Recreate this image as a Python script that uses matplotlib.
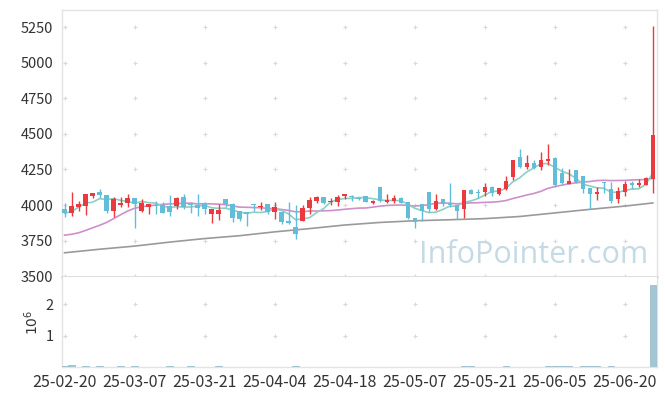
import matplotlib
matplotlib.use("Agg")
import matplotlib.pyplot as plt
import numpy as np
import pandas as pd

plt.rcParams['font.family'] = ['Noto Sans CJK KR', 'DejaVu Sans']

dates = ['25-02-20', '25-02-21', '25-02-24', '25-02-25', '25-02-26', '25-02-27', '25-02-28',
         '25-03-04', '25-03-05', '25-03-06', '25-03-07', '25-03-10', '25-03-11', '25-03-12',
         '25-03-13', '25-03-14', '25-03-17', '25-03-18', '25-03-19', '25-03-20', '25-03-21',
         '25-03-24', '25-03-25', '25-03-26', '25-03-27', '25-03-28', '25-03-31', '25-04-01',
         '25-04-02', '25-04-03', '25-04-04', '25-04-07', '25-04-08', '25-04-09', '25-04-10',
         '25-04-11', '25-04-14', '25-04-15', '25-04-16', '25-04-17', '25-04-18', '25-04-21',
         '25-04-22', '25-04-23', '25-04-24', '25-04-25', '25-04-28', '25-04-29', '25-04-30',
         '25-05-02', '25-05-07', '25-05-08', '25-05-09', '25-05-12', '25-05-13', '25-05-14',
         '25-05-15', '25-05-16', '25-05-19', '25-05-20', '25-05-21', '25-05-22', '25-05-23',
         '25-05-26', '25-05-27', '25-05-28', '25-05-29', '25-05-30', '25-06-02', '25-06-04',
         '25-06-05', '25-06-09', '25-06-10', '25-06-11', '25-06-12', '25-06-13', '25-06-16',
         '25-06-17', '25-06-18', '25-06-19', '25-06-20', '25-06-23', '25-06-24', '25-06-25',
         '25-06-26']

opens = [3972, 3946, 3988, 3995, 4065, 4093, 4070, 3960, 4000, 4012,
         4047, 3960, 3988, 4002, 4000, 3995, 3993, 4058, 4007, 4000,
         4016, 3937, 3937, 4042, 4007, 3958, 3949, 4005, 3984, 4007,
         3949, 3953, 3890, 3843, 3890, 3981, 4030, 4054, 4019, 4023,
         4063, 4063, 4049, 4063, 4012, 4124, 4023, 4030, 4047, 4019,
         3907, 4005, 4093, 3972, 4040, 4007, 4000, 3970, 4105, 4091,
         4093, 4124, 4075, 4112, 4199, 4335, 4269, 4293, 4269, 4311,
         4332, 4227, 4147, 4246, 4204, 4117, 4077, 4159, 4110, 4042,
         4093, 4157, 4140, 4140, 4183]
highs = [4015, 4089, 4028, 4080, 4084, 4110, 4072, 4058, 4058, 4077,
         4049, 4040, 4010, 4030, 4019, 4070, 4058, 4080, 4023, 4077,
         4023, 3972, 4005, 4045, 4012, 3962, 3951, 4010, 4023, 4009,
         4023, 3955, 4023, 4000, 4000, 4058, 4065, 4060, 4049, 4070,
         4075, 4068, 4058, 4065, 4035, 4128, 4077, 4070, 4058, 4021,
         3909, 4007, 4095, 4077, 4042, 4157, 4002, 4105, 4110, 4110,
         4157, 4135, 4120, 4204, 4316, 4391, 4351, 4320, 4374, 4428,
         4335, 4260, 4251, 4248, 4206, 4120, 4128, 4161, 4164, 4128,
         4171, 4170, 4180, 4195, 5260]
lows = [3918, 3923, 3958, 3930, 4047, 4051, 3946, 3914, 3986, 3984,
        3836, 3950, 3935, 3940, 3946, 3923, 3975, 3975, 3942, 3923,
        3935, 3871, 3895, 3986, 3883, 3890, 3853, 3958, 3967, 3940,
        3900, 3870, 3870, 3759, 3885, 3937, 4016, 4005, 4002, 3995,
        4040, 4030, 4035, 4020, 4005, 4023, 4016, 4016, 4012, 3900,
        3836, 3888, 3955, 3965, 3995, 3990, 3900, 3907, 4077, 4050,
        4063, 4065, 4070, 4105, 4175, 4258, 4250, 4255, 4246, 4281,
        4130, 4145, 4145, 4155, 4086, 3970, 4035, 4086, 4012, 4016,
        4063, 4110, 4130, 4140, 4082]
closes = [3942, 3993, 4005, 4077, 4082, 4070, 3958, 4042, 4014, 4047,
          4007, 4014, 4005, 3995, 3946, 3949, 4051, 3988, 4000, 3977,
          3970, 3972, 3967, 4007, 3907, 3900, 3935, 4000, 3995, 3949,
          3988, 3879, 3876, 3794, 3977, 4035, 4054, 4016, 4030, 4058,
          4075, 4058, 4044, 4023, 4028, 4030, 4035, 4047, 4016, 3907,
          3883, 3960, 3970, 4028, 4005, 3998, 3960, 4105, 4077, 4086,
          4124, 4086, 4117, 4171, 4316, 4269, 4293, 4258, 4316, 4323,
          4140, 4152, 4168, 4164, 4112, 4075, 4089, 4152, 4030, 4098,
          4145, 4140, 4157, 4187, 4491]
volumes = [20000, 60000, 8000, 35000, 8000, 35000, 8000, 8000, 35000, 8000,
           35000, 8000, 8000, 8000, 8000, 35000, 8000, 8000, 35000, 8000,
           8000, 8000, 35000, 8000, 8000, 8000, 8000, 8000, 8000, 8000,
           8000, 8000, 8000, 35000, 8000, 8000, 8000, 8000, 8000, 8000,
           8000, 8000, 8000, 8000, 8000, 8000, 8000, 8000, 8000, 8000,
           8000, 8000, 8000, 8000, 8000, 8000, 8000, 35000, 35000, 8000,
           8000, 8000, 8000, 35000, 8000, 8000, 8000, 8000, 8000, 35000,
           35000, 35000, 35000, 8000, 35000, 35000, 35000, 8000, 35000, 8000,
           8000, 8000, 8000, 8000, 2610000]

ma5_head = [3942, 3955, 3985, 4015]
ma20_head = [3789, 3795, 3805, 3822, 3840, 3858, 3878, 3905, 3932, 3958,
             3978, 3988, 3995, 4000, 4005, 4008, 4011, 4013, 4014]
ma60_idx = [0, 5, 10, 15, 20, 25, 30, 35, 40, 45, 50, 55, 60, 65, 70, 75, 80, 84]
ma60_vals = [3665, 3690, 3712, 3740, 3765, 3785, 3812, 3835, 3860, 3878,
             3890, 3897, 3905, 3920, 3945, 3970, 3993, 4015]

up_color = '#ea3a40'
down_color = '#62bdd9'

n = len(closes)
x = np.arange(n)
o = np.array(opens)
c = np.array(closes)
colors = [up_color if c[i] >= o[i] else down_color for i in range(n)]

ma5 = pd.Series(closes, dtype=float).rolling(5).mean()
ma5.iloc[:4] = ma5_head
ma20 = pd.Series(closes, dtype=float).rolling(20).mean()
ma20.iloc[:19] = ma20_head

fig = plt.figure(figsize=(6.65, 3.96), dpi=100)
ax = fig.add_axes([0.0928, 0.3005, 0.8952, 0.6742])
axv = fig.add_axes([0.0928, 0.0732, 0.8952, 0.2273], sharex=ax)

# grid crosses
xt = np.arange(0, n, 10)
yt = np.arange(3500, 5251, 250)
gx, gy = np.meshgrid(xt, yt)
ax.scatter(gx.ravel(), gy.ravel(), marker='+', s=10, linewidths=0.8, color='#d9d9d9', zorder=0)
vt = [1e6, 2e6]
gx2, gy2 = np.meshgrid(xt, vt)
axv.scatter(gx2.ravel(), gy2.ravel(), marker='+', s=10, linewidths=0.8, color='#d9d9d9', zorder=0)

ax.text(0.985, 0.052, 'InfoPointer.com', transform=ax.transAxes, ha='right', va='baseline',
        fontsize=22, color='#c6dae5', family='Open Sans', zorder=1)

# moving averages
ax.plot(ma60_idx, ma60_vals, color='#9a9a9a', lw=1.2, zorder=2)
ax.plot(x, ma20, color='#cf8fca', lw=1.2, zorder=2)
ax.plot(x, ma5, color='#8ccfc3', lw=1.2, zorder=2)

# candles
ax.vlines(x, lows, highs, colors=colors, lw=1.0, zorder=3)
bottoms = np.minimum(o, c)
heights = np.maximum(np.abs(c - o), 4)
ax.bar(x, heights, 0.62, bottom=bottoms, color=colors, zorder=4, linewidth=0)

axv.bar(x, volumes, 0.9, color='#a3c6d3', edgecolor='#8fb6c5', linewidth=0.5, zorder=3)

ax.set_xlim(-0.4, 84.6)
ax.set_ylim(3495, 5370)
axv.set_ylim(0, 2.87e6)

ax.set_yticks(yt)
ax.set_yticklabels([str(v) for v in yt])
axv.set_yticks(vt)
axv.set_yticklabels(['1', '2'])
axv.set_ylabel(r'$10^6$', fontsize=10, color='#333333', labelpad=3)
axv.set_xticks(xt)
axv.set_xticklabels([dates[i] for i in xt])

ax.tick_params(axis='x', bottom=False, labelbottom=False)
ax.tick_params(axis='y', length=0, pad=6, labelsize=10.5, labelcolor='#333333')
axv.tick_params(axis='y', length=0, pad=6, labelsize=10.5, labelcolor='#333333')
axv.tick_params(axis='x', length=0, pad=5, labelsize=11.5, labelcolor='#333333')

for a in (ax, axv):
    for s in a.spines.values():
        s.set_color('#e3e3e3')
        s.set_linewidth(1.0)
ax.spines['bottom'].set_linewidth(2.0)
ax.spines['bottom'].set_color('#dcdcdc')
axv.spines['top'].set_visible(False)

fig.savefig('out.png', dpi=100)
